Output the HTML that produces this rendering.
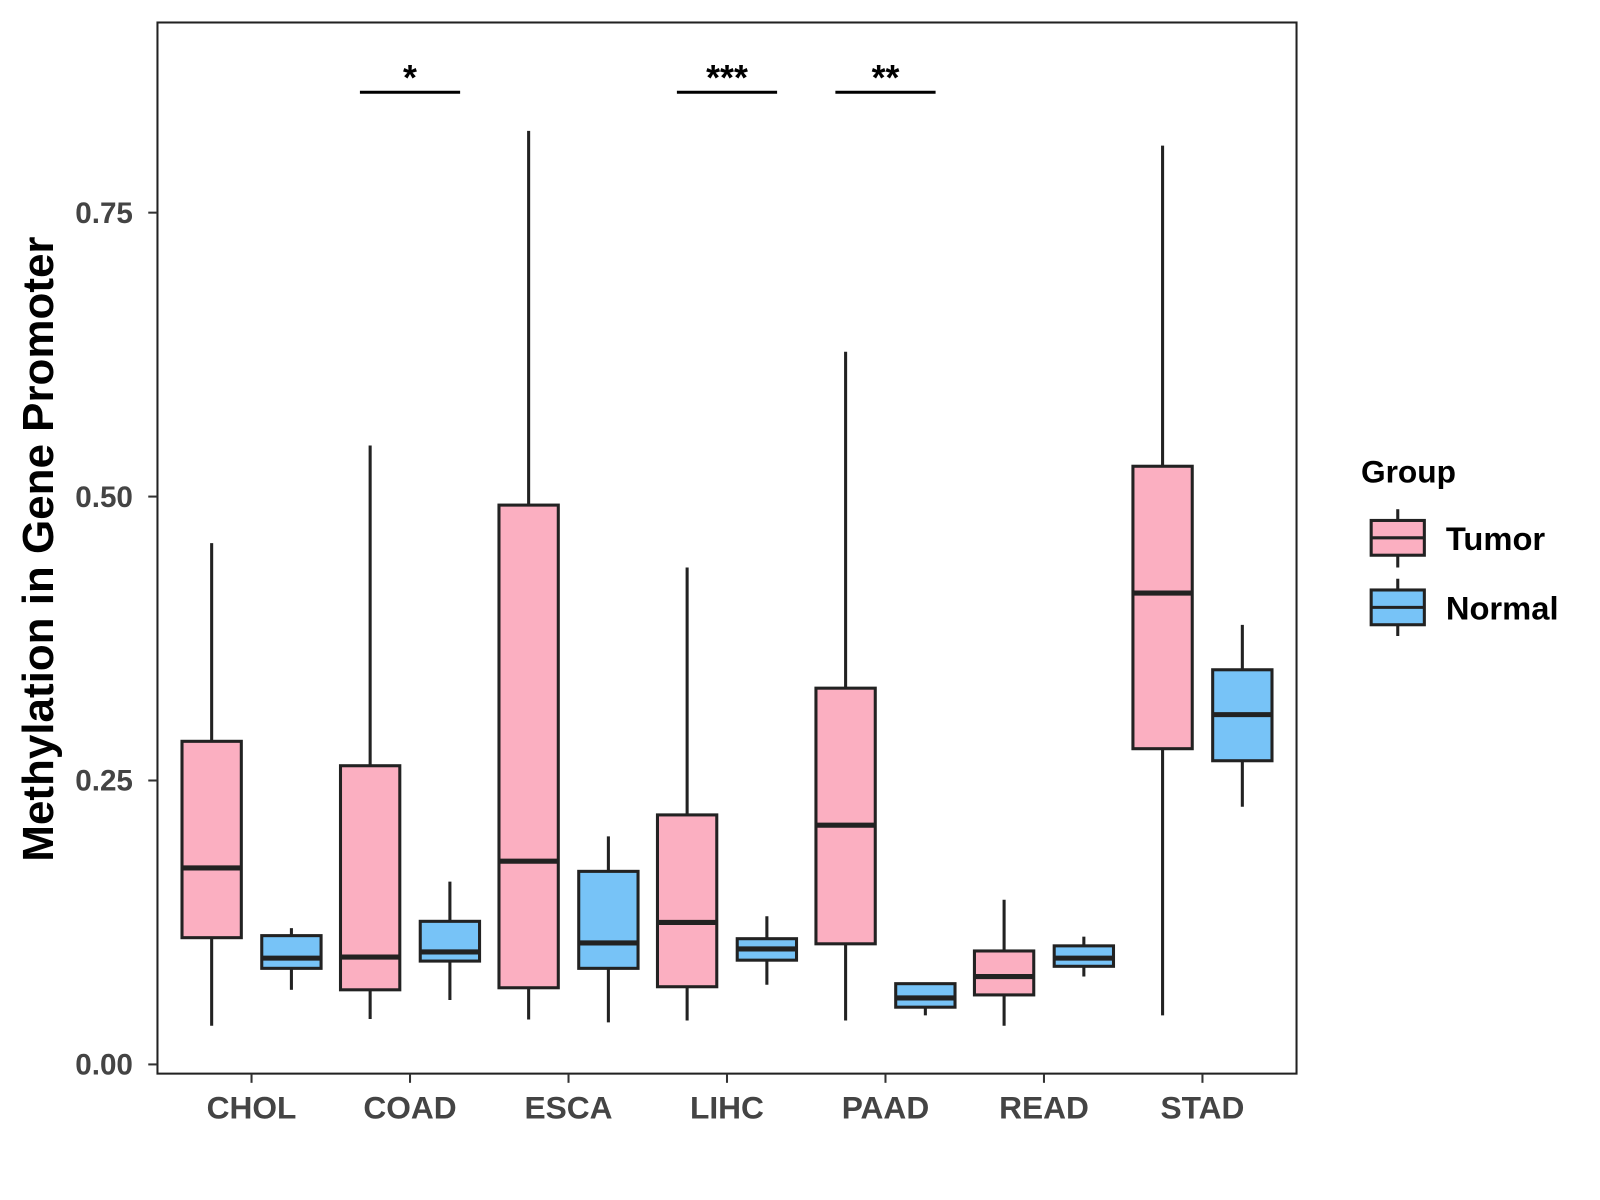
<!DOCTYPE html>
<html><head><meta charset="utf-8"><style>
body{margin:0;background:#fff;}
svg{display:block;font-family:"Liberation Sans",Arial,sans-serif;}
</style></head><body>
<svg id="chart" width="1600" height="1200" viewBox="0 0 1600 1200">
<g transform="scale(1.0225)">
<rect x="154" y="22" width="1114" height="1028" fill="#fff" stroke="#222" stroke-width="2"/>
<g id="marks"></g>
<g id="axes"></g>
<text transform="translate(52,537) rotate(-90)" text-anchor="middle" font-size="43" font-weight="bold" fill="#000">Methylation in Gene Promoter</text>
<g>
<text x="1331" y="472" font-size="31" font-weight="bold" fill="#000">Group</text>
<g>
<line x1="1367" y1="498" x2="1367" y2="555" stroke="#222" stroke-width="3"/>
<rect x="1341" y="509" width="52" height="34" fill="#fbafc1" stroke="#222" stroke-width="3"/>
<line x1="1341" y1="526" x2="1393" y2="526" stroke="#222" stroke-width="3"/>
<text x="1414" y="538" font-size="32" font-weight="bold" fill="#000">Tumor</text>
</g>
<g>
<line x1="1367" y1="566" x2="1367" y2="622" stroke="#222" stroke-width="3"/>
<rect x="1341" y="577" width="52" height="34" fill="#77c3f7" stroke="#222" stroke-width="3"/>
<line x1="1341" y1="594" x2="1393" y2="594" stroke="#222" stroke-width="3"/>
<text x="1414" y="606" font-size="32" font-weight="bold" fill="#000">Normal</text>
</g>
</g>
</g>
</svg>
<script>
const categories=["CHOL","COAD","ESCA","LIHC","PAAD","READ","STAD"];
// [low, q1, median, q3, high]
const tumorStats=[[0.034,0.1116,0.173,0.2845,0.459],[0.040,0.0657,0.0945,0.263,0.545],[0.0396,0.0675,0.179,0.4925,0.822],[0.0387,0.0684,0.125,0.2197,0.4375],[0.0387,0.1062,0.2107,0.3313,0.6275],[0.034,0.0612,0.0774,0.0999,0.145],[0.0432,0.278,0.415,0.5267,0.809]];
const normalStats=[[0.0657,0.0846,0.0936,0.1134,0.12],[0.0567,0.091,0.099,0.126,0.161],[0.037,0.0846,0.107,0.170,0.2008],[0.0702,0.0918,0.1017,0.1107,0.1305],[0.0432,0.0504,0.0585,0.0711,0.072],[0.0774,0.0864,0.0936,0.1044,0.1125],[0.2269,0.2674,0.308,0.3475,0.387]];
const yTicks=[0,0.25,0.5,0.75];
const yTickLabels=["0.00","0.25","0.50","0.75"];
const sigCategories=["COAD","LIHC","PAAD"];
const sigLabels=["*","***","**"];
const sigLevel=0.856;

const NS="http://www.w3.org/2000/svg";
const y=v=>1041-v*1110.7;
const x=c=>246+categories.indexOf(c)*155;
const marks=document.getElementById("marks"),axes=document.getElementById("axes");
function mk(tag,attrs,parent){const e=document.createElementNS(NS,tag);for(const k in attrs)e.setAttribute(k,attrs[k]);parent.appendChild(e);return e;}
function box(cx,s,fill,name,i){
  const g=mk("g",{},marks);
  
  
  mk("line",{x1:cx,x2:cx,y1:y(s[4]),y2:y(s[0]),stroke:"#222","stroke-width":3},g);
  mk("rect",{x:cx-29,y:y(s[3]),width:58,height:y(s[1])-y(s[3]),fill:fill,stroke:"#222","stroke-width":3},g);
  mk("line",{x1:cx-29,x2:cx+29,y1:y(s[2]),y2:y(s[2]),stroke:"#222","stroke-width":5},g);
}
categories.forEach((c,i)=>{
  box(x(c)-39,tumorStats[i],"#fbafc1","tumor-box",i);
  box(x(c)+39,normalStats[i],"#77c3f7","normal-box",i);
  mk("line",{x1:x(c),x2:x(c),y1:1050,y2:1059,stroke:"#333","stroke-width":2},axes);
  const t=mk("text",{x:x(c),y:1094,"text-anchor":"middle","font-size":31,"font-weight":"bold",fill:"#444"},axes);
  t.textContent=c;
  
  
});
yTicks.forEach((v,i)=>{
  mk("line",{x1:145,x2:154,y1:y(v),y2:y(v),stroke:"#333","stroke-width":2},axes);
  const t=mk("text",{x:130,y:y(v)+10,"text-anchor":"end","font-size":29,"font-weight":"bold",fill:"#444"},axes);
  t.textContent=yTickLabels[i];
  
  
});
sigCategories.forEach((c,i)=>{
  const g=mk("g",{},marks);
  
  
  mk("line",{x1:x(c)-49,x2:x(c)+49,y1:y(sigLevel),y2:y(sigLevel),stroke:"#000","stroke-width":3},g);
  const t=mk("text",{x:x(c),y:y(sigLevel)-2,"text-anchor":"middle","font-size":35,"font-weight":"bold",fill:"#000"},g);
  t.textContent=sigLabels[i];
});
</script>
</body></html>
